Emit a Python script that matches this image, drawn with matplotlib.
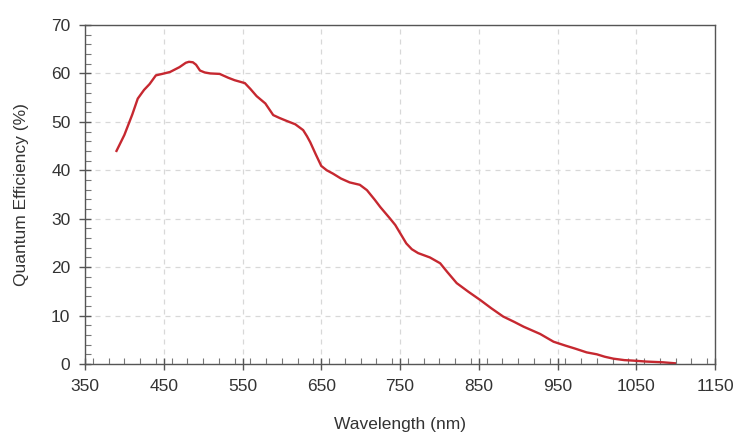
import matplotlib
matplotlib.use("Agg")
import matplotlib.pyplot as plt
from matplotlib.ticker import MultipleLocator

wavelength = [390, 400, 410, 417, 425, 432, 440, 448, 458, 470, 478, 482, 487, 491, 496, 502,
              509, 521, 532, 540, 553, 560, 568, 579, 589, 597, 606, 617, 627, 632, 636, 643,
              650, 657, 665, 675, 686, 699, 708, 718, 725, 737, 744, 751, 758, 765, 773, 788,
              801, 810, 822, 837, 852, 866, 881, 895, 907, 928, 945, 960, 972, 987, 1000, 1010,
              1021, 1035, 1046, 1063, 1084, 1099]
qe = [44.0, 47.3, 51.5, 54.8, 56.6, 57.8, 59.6, 59.9, 60.3, 61.3, 62.2, 62.4, 62.3, 61.8, 60.6,
      60.2, 60.0, 59.9, 59.1, 58.6, 58.0, 56.8, 55.3, 53.8, 51.4, 50.8, 50.2, 49.5, 48.3, 47.0,
      45.8, 43.3, 40.9, 40.0, 39.3, 38.3, 37.5, 37.0, 35.9, 33.9, 32.4, 30.1, 28.7, 26.8, 24.9,
      23.7, 22.9, 22.0, 20.8, 19.0, 16.7, 14.9, 13.2, 11.5, 9.8, 8.7, 7.7, 6.2, 4.6, 3.8, 3.2,
      2.4, 2.0, 1.5, 1.1, 0.8, 0.7, 0.5, 0.35, 0.15]

x_ticks = [350, 450, 550, 650, 750, 850, 950, 1050, 1150]
y_ticks = [0, 10, 20, 30, 40, 50, 60, 70]

plt.rcParams['font.family'] = ['Liberation Sans', 'DejaVu Sans']
fig = plt.figure(figsize=(7.35, 4.37), dpi=100)
ax = fig.add_axes([85/735, 1 - 364/437, 630/735, 339/437])

ax.plot(wavelength, qe, color='#c62830', lw=1.7, solid_joinstyle='round')

ax.set_xlim(350, 1150)
ax.set_ylim(0, 70)
ax.set_xticks(x_ticks)
ax.set_yticks(y_ticks)
ax.xaxis.set_minor_locator(MultipleLocator(20))
ax.yaxis.set_minor_locator(MultipleLocator(2))
ax.grid(True, which='major', linestyle=(0, (4, 4)), color='#d8d8d8', lw=0.9)
ax.tick_params(which='major', direction='inout', length=9, width=1, color='#555555',
               labelsize=12.5, labelcolor='#333333', pad=6)
ax.tick_params(which='minor', direction='in', length=4, width=0.8, color='#777777')
for s in ax.spines.values():
    s.set_color('#555555')
    s.set_linewidth(1.0)
ax.set_xlabel('Wavelength (nm)', fontsize=12.5, color='#333333', labelpad=17)
ax.set_ylabel('Quantum Efficiency (%)', fontsize=12.5, color='#333333', labelpad=16)

fig.savefig('out.png', dpi=100)
